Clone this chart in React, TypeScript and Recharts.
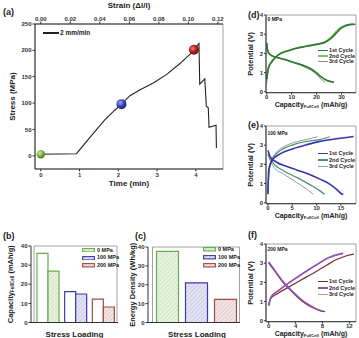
import React from 'react';
import {
  ComposedChart, LineChart, Line, Scatter, Bar, Cell,
  XAxis, YAxis, ReferenceArea, Label,
} from 'recharts';

const FONT = '"Liberation Sans", Arial, Helvetica, sans-serif';
const TICK = { fontSize: 6, fontWeight: 700, fill: '#333', fontFamily: FONT };
const AXIS = '#333';
const FRAME = '#8a8a8a';

// (a) stress-time curve at 2 mm/min
const timeMin = [0, 0.92, 1.3, 1.65, 1.9, 2.08, 2.3, 2.55, 2.9, 3.24, 3.59, 3.85, 3.95, 4.08, 4.1, 4.23, 4.27, 4.32, 4.34, 4.52, 4.53];
const stressMPa = [3, 4, 38, 68, 86, 98, 114, 125, 138, 154, 175, 193, 201, 213, 136, 146, 94, 91, 54, 58, 15];
const timeTicks = [0, 1, 2, 3, 4];
const stressTicks = [0, 50, 100, 150, 200, 250];
const strainTicks = [0, 0.02, 0.04, 0.06, 0.08, 0.1, 0.12];
const strainPerMin = 0.02627; // top axis: 0.12 strain sits at ~4.57 min
const markerTime = [0, 2.08, 3.95];
const markerStress = [3, 98, 201];

// (b), (c) stress loading
const loadCats = ['0 MPa', '100 MPa', '200 MPa'];
const chargeCap = [36.1, 16.1, 12.2];
const dischargeCap = [26.9, 14.9, 8.1];
const energyDensity = [37.7, 21.0, 12.2];
const barTicks = [0, 10, 20, 30, 40];

// (d) 0 MPa cycles, [capacity, potential]
const mpa0Cyc1Chg = [[0, 0.65], [0.5, 1.15], [1, 1.35], [2, 1.55], [3, 1.72], [5, 1.95], [7, 2.07], [9, 2.15], [12, 2.27], [16, 2.37], [20, 2.47], [23.5, 2.58], [25.5, 2.75], [27.5, 3.0], [29.5, 3.28], [31.5, 3.43], [33.5, 3.5], [35.5, 3.52]];
const mpa0Cyc2Chg = [[0, 0.7], [0.5, 1.2], [1, 1.4], [2, 1.6], [3, 1.75], [5, 1.97], [7, 2.09], [9, 2.17], [12, 2.28], [16, 2.38], [20, 2.48], [23.5, 2.62], [25.5, 2.82], [27.5, 3.1], [29.5, 3.35], [31.5, 3.47], [33.5, 3.52], [35, 3.53]];
const mpa0Cyc3Chg = [[0, 0.45], [0.5, 1.0], [1, 1.3], [2, 1.55], [3, 1.72], [5, 1.95], [7, 2.08], [9, 2.16], [12, 2.28], [16, 2.38], [20, 2.48], [23.5, 2.6], [25.5, 2.8], [27.5, 3.07], [29.5, 3.33], [31.5, 3.46], [33.5, 3.52], [35, 3.53]];
const mpa0Cyc1Dis = [[0, 2.55], [0.3, 2.2], [1, 1.98], [3, 1.83], [5, 1.76], [7, 1.69], [11, 1.52], [15, 1.35], [18, 1.17], [20, 0.98], [22, 0.76], [24, 0.6], [26, 0.52], [27, 0.5]];
const mpa0Cyc2Dis = [[0, 2.5], [0.3, 2.15], [1, 1.96], [3, 1.82], [5, 1.75], [7, 1.68], [11, 1.52], [15, 1.35], [18, 1.16], [20, 0.96], [22, 0.74], [24, 0.59], [26.6, 0.49]];
const mpa0Cyc3Dis = [[0, 2.45], [0.3, 2.1], [1, 1.95], [3, 1.82], [5, 1.75], [7, 1.68], [11, 1.5], [15, 1.3], [18, 1.1], [19.5, 0.95], [21, 0.75], [22.5, 0.58], [23.4, 0.5]];

// (e) 100 MPa cycles
const mpa100Cyc1Chg = [[0, 0.44], [0.15, 1.67], [0.8, 2.2], [2.5, 2.55], [5.2, 2.82], [8, 3.03], [10.7, 3.2], [13.4, 3.31], [16.2, 3.4], [17.6, 3.45]];
const mpa100Cyc2Chg = [[0, 0.53], [0.27, 1.76], [1.16, 2.38], [3.2, 2.82], [5.9, 3.08], [8.7, 3.22], [10.7, 3.3], [12.7, 3.44]];
const mpa100Cyc3Chg = [[0, 0.62], [0.34, 1.94], [1.5, 2.55], [3.9, 3.0], [6.6, 3.22], [8.7, 3.35], [10.2, 3.44]];
const mpa100Cyc1Dis = [[0, 2.73], [0.5, 2.38], [1.8, 2.11], [3.9, 1.89], [5.9, 1.71], [8.7, 1.46], [10.7, 1.23], [12.7, 0.97], [14.1, 0.7], [15.1, 0.47], [15.5, 0.43]];
const mpa100Cyc2Dis = [[0, 2.55], [1.2, 2.03], [3.2, 1.67], [5.9, 1.32], [8.7, 0.93], [10.7, 0.62], [11.7, 0.44]];
const mpa100Cyc3Dis = [[0, 2.47], [1.2, 1.85], [3.2, 1.5], [5.9, 1.06], [8, 0.7], [9.3, 0.44]];

// (f) 200 MPa cycles
const mpa200Cyc1Chg = [[0, 0.79], [0.25, 1.14], [1.23, 1.4], [2.7, 1.7], [4.7, 2.1], [6.7, 2.49], [8.6, 2.89], [10.1, 3.19], [11.6, 3.39], [12.7, 3.47]];
const mpa200Cyc2Chg = [[0, 0.79], [0.35, 1.23], [1.5, 1.58], [3.2, 2.02], [5.2, 2.49], [7.2, 2.93], [8.9, 3.28], [10.4, 3.46], [11.1, 3.51]];
const mpa200Cyc3Chg = [[0, 0.82], [0.35, 1.25], [1.5, 1.6], [3.2, 2.03], [5.2, 2.5], [7.2, 2.93], [8.9, 3.27], [10.6, 3.47]];
const mpa200Cyc1Dis = [[0, 3.02], [1, 2.54], [2, 2.05], [3, 1.67], [4, 1.32], [4.9, 1.04], [6.2, 0.74], [7.7, 0.53], [8.4, 0.47]];
const mpa200Cyc2Dis = [[0, 3.07], [1, 2.58], [2, 2.1], [3, 1.72], [4, 1.37], [4.9, 1.09], [6.2, 0.79], [7.4, 0.56], [8.1, 0.49]];
const mpa200Cyc3Dis = [[0, 3.0], [1, 2.55], [2, 2.08], [3, 1.7], [4, 1.35], [4.9, 1.07], [6.2, 0.77], [7.4, 0.55], [7.9, 0.5]];

const cycleNames = ['1st Cycle', '2nd Cycle', '3rd Cycle'];
const potentialTicks = [0, 1, 2, 3, 4];

const loadColors = ['#6aa84f', '#3a3aa8', '#a04a46'];
const hatchIds = ['hatchGreen', 'hatchBlue', 'hatchRed'];
const hatchBg = ['#e8f2e0', '#e3e3f4', '#f4e5e5'];
const hatchLine = ['#bcd8ab', '#b6b6e0', '#d9b3b3'];

function TitleText({ x, y, angle = 0, size = 8, children }: any) {
  return (
    <text
      x={x} y={y}
      transform={angle ? `rotate(${angle} ${x} ${y})` : undefined}
      textAnchor="middle" dominantBaseline="central"
      fontFamily={FONT} fontWeight={700} fontSize={size} fill="#222"
    >
      {children}
    </text>
  );
}

const yTitle = (dx: number, body: React.ReactNode, size = 8) => (p: any) => {
  const vb = p.viewBox || {};
  const x = vb.x + dx;
  const y = vb.y + vb.height / 2;
  return <TitleText x={x} y={y} angle={-90} size={size}>{body}</TitleText>;
};

const xTitle = (dy: number, body: React.ReactNode, size = 8) => (p: any) => {
  const vb = p.viewBox || {};
  return <TitleText x={vb.x + vb.width / 2} y={vb.y + dy} size={size}>{body}</TitleText>;
};

const capTitle = (unit: string, sub = 4.5) => (
  <>
    <tspan>Capacity</tspan>
    <tspan fontSize={sub} dy={1.8}>FullCell</tspan>
    <tspan dy={-1.8}>{` (${unit})`}</tspan>
  </>
);

function Note({ x, y, size = 5.5, children, weight = 700 }: any) {
  return (
    <div style={{
      position: 'absolute', left: x, top: y - size / 2, fontSize: size, lineHeight: `${size}px`,
      fontWeight: weight, whiteSpace: 'nowrap', color: '#222', fontFamily: FONT,
    }}>
      {children}
    </div>
  );
}

function SharedDefs() {
  return (
    <svg width={0} height={0} style={{ position: 'absolute' }}>
      <defs>
        {hatchIds.map((id, i) => (
          <pattern key={id} id={id} patternUnits="userSpaceOnUse" width={3} height={3} patternTransform="rotate(45)">
            <rect width={3} height={3} fill={hatchBg[i]} />
            <line x1={0} y1={0} x2={0} y2={3} stroke={hatchLine[i]} strokeWidth={1} />
          </pattern>
        ))}
        <radialGradient id="ballGreen" cx="38%" cy="35%" r="65%">
          <stop offset="0%" stopColor="#d6f0a0" />
          <stop offset="55%" stopColor="#7cb342" />
          <stop offset="100%" stopColor="#4a7a1e" />
        </radialGradient>
        <radialGradient id="ballBlue" cx="38%" cy="35%" r="65%">
          <stop offset="0%" stopColor="#9aa6ff" />
          <stop offset="55%" stopColor="#3846b0" />
          <stop offset="100%" stopColor="#1c2470" />
        </radialGradient>
        <radialGradient id="ballRed" cx="38%" cy="35%" r="65%">
          <stop offset="0%" stopColor="#f08080" />
          <stop offset="55%" stopColor="#b01c1c" />
          <stop offset="100%" stopColor="#6a0c0c" />
        </radialGradient>
      </defs>
    </svg>
  );
}

const tensileData = timeMin.map((t, i) => ({ t, s: stressMPa[i] }));
const markerData = markerTime.map((t, i) => ({ t, s: markerStress[i] }));
const markerFill = ['url(#ballGreen)', 'url(#ballBlue)', 'url(#ballRed)'];
const markerR = [4.2, 5, 5];
const TIME_DOMAIN = [-0.15, 4.7];

function TensilePanel() {
  return (
    <div style={{ position: 'absolute', left: 0, top: 0 }}>
      <ComposedChart width={230} height={192} data={tensileData} margin={{ top: 2, right: 7, bottom: 3, left: 8 }}>
        <XAxis dataKey="t" type="number" domain={TIME_DOMAIN} ticks={timeTicks} allowDataOverflow
          height={20} tick={TICK} tickSize={2.5} tickMargin={1} stroke={AXIS}>
          <Label content={xTitle(14.5, 'Time (min)')} />
        </XAxis>
        <XAxis xAxisId="strain" orientation="top" dataKey="t" type="number" domain={TIME_DOMAIN}
          ticks={strainTicks.map((s) => s / strainPerMin)} allowDataOverflow height={22}
          tick={TICK} tickSize={2.5} tickMargin={1} stroke={AXIS}
          tickFormatter={(v: number) => (v * strainPerMin).toFixed(2)}>
          <Label content={xTitle(3, 'Strain (Δl/l)')} />
        </XAxis>
        <YAxis dataKey="s" type="number" domain={[-25, 250]} ticks={stressTicks} allowDataOverflow
          width={27} tick={TICK} tickSize={2.5} tickMargin={1} stroke={AXIS}>
          <Label content={yTitle(4.7, 'Stress (MPa)')} />
        </YAxis>
        <ReferenceArea x1={TIME_DOMAIN[0]} x2={TIME_DOMAIN[1]} y1={-25} y2={250} fill="none" stroke={FRAME} strokeWidth={0.8} />
        <Line xAxisId="strain" dataKey="s" stroke="none" dot={false} activeDot={false} isAnimationActive={false} />
        <Line dataKey="s" type="linear" stroke="#222" strokeWidth={1.1} dot={false} isAnimationActive={false} />
        <Scatter
          data={markerData} dataKey="s" isAnimationActive={false}
          shape={(p: any) => {
            const k = Math.max(0, markerTime.indexOf(p.payload?.t));
            return <circle cx={p.cx} cy={p.cy} r={markerR[k]} fill={markerFill[k]} />;
          }}
        />
      </ComposedChart>
    </div>
  );
}

const capacityData = loadCats.map((name, i) => ({ name, charge: chargeCap[i], discharge: dischargeCap[i] }));
const energyData = loadCats.map((name, i) => ({ name, energy: energyDensity[i] }));

function CapacityPanel() {
  return (
    <div style={{ position: 'absolute', left: 0, top: 235 }}>
      <ComposedChart width={125} height={103} data={capacityData} barGap={0} barSize={11}
        margin={{ top: 11, right: 7, bottom: 1.5, left: 4 }}>
        <XAxis dataKey="name" tick={false} tickLine={false} height={14} padding={{ left: 3, right: 1 }} stroke={AXIS}>
          <Label content={xTitle(11.5, 'Stress Loading')} />
        </XAxis>
        <YAxis type="number" domain={[0, 40]} ticks={barTicks} width={27} tick={TICK} tickSize={2.5} tickMargin={1} stroke={AXIS}>
          <Label content={yTitle(6, capTitle('mAh/g'), 7.5)} />
        </YAxis>
        <ReferenceArea y1={0} y2={40} fill="none" stroke={FRAME} strokeWidth={0.8} />
        <Bar dataKey="charge" isAnimationActive={false} strokeWidth={1.2}>
          {loadCats.map((c, i) => <Cell key={c} fill="#fff" stroke={loadColors[i]} />)}
        </Bar>
        <Bar dataKey="discharge" isAnimationActive={false} strokeWidth={1.2}>
          {loadCats.map((c, i) => <Cell key={c} fill={`url(#${hatchIds[i]})`} stroke={loadColors[i]} />)}
        </Bar>
      </ComposedChart>
    </div>
  );
}

function EnergyPanel() {
  return (
    <div style={{ position: 'absolute', left: 120, top: 235, width: 120, height: 103, overflow: 'hidden' }}>
      <ComposedChart width={130} height={103} data={energyData} barSize={22}
        margin={{ top: 12, right: 4, bottom: 1, left: 4 }}>
        <XAxis dataKey="name" tick={false} tickLine={false} height={14.5} padding={{ left: 4.5, right: 6.5 }} stroke={AXIS}>
          <Label content={xTitle(11.5, 'Stress Loading')} />
        </XAxis>
        <YAxis type="number" domain={[0, 40]} ticks={barTicks} width={24} tick={TICK} tickSize={2.5} tickMargin={1} stroke={AXIS}>
          <Label content={yTitle(8.7, 'Energy Density (Wh/kg)', 7.5)} />
        </YAxis>
        <ReferenceArea y1={0} y2={40} fill="none" stroke={FRAME} strokeWidth={0.8} />
        <Bar dataKey="energy" isAnimationActive={false} strokeWidth={1.2}>
          {loadCats.map((c, i) => <Cell key={c} fill={`url(#${hatchIds[i]})`} stroke={loadColors[i]} />)}
        </Bar>
      </ComposedChart>
    </div>
  );
}

function BarLegend({ x, ys }: { x: number; ys: number[] }) {
  return (
    <>
      {loadCats.map((c, i) => (
        <div key={c} style={{ position: 'absolute', left: x, top: ys[i] - 2.2, display: 'flex', alignItems: 'center' }}>
          <svg width={13} height={4.5} style={{ display: 'block' }}>
            <rect x={0.6} y={0.6} width={11.8} height={3.3} fill={`url(#${hatchIds[i]})`} stroke={loadColors[i]} strokeWidth={1.1} />
          </svg>
          <span style={{ marginLeft: 2, fontSize: 5.5, lineHeight: '5px', fontWeight: 700, fontFamily: FONT, color: '#222', whiteSpace: 'nowrap' }}>{c}</span>
        </div>
      ))}
    </>
  );
}

type Curve = { pts: number[][]; color: string; w: number };

function CyclePanel({ top, height, marginTop, xDomain, xTicks, curves }: {
  top: number; height: number; marginTop: number; xDomain: number[]; xTicks: number[]; curves: Curve[];
}) {
  return (
    <div style={{ position: 'absolute', left: 230, top }}>
      <LineChart width={129} height={height} margin={{ top: marginTop, right: 3, bottom: height - marginTop - 77.7 - 14, left: 4 }}>
        <XAxis dataKey="x" type="number" domain={xDomain} ticks={xTicks} allowDataOverflow height={14}
          tick={TICK} tickSize={2} tickMargin={0} stroke={AXIS}>
          <Label content={xTitle(11.2, capTitle('mAh/g', 4.2), 7)} />
        </XAxis>
        <YAxis type="number" domain={[-0.05, 4]} ticks={potentialTicks} allowDataOverflow width={32}
          tick={TICK} tickSize={2} tickMargin={1} stroke={AXIS}>
          <Label content={yTitle(17, 'Potential (V)', 7.5)} />
        </YAxis>
        <ReferenceArea x1={xDomain[0]} x2={xDomain[1]} y1={-0.05} y2={4} fill="none" stroke={FRAME} strokeWidth={0.8} />
        {curves.map((c, i) => (
          <Line key={i} data={c.pts.map(([x, y]) => ({ x, y }))} dataKey="y" type="monotone"
            stroke={c.color} strokeWidth={c.w} dot={false} isAnimationActive={false} />
        ))}
      </LineChart>
    </div>
  );
}

function CycleLegend({ ys, colors, widths }: { ys: number[]; colors: string[]; widths: number[] }) {
  return (
    <>
      {cycleNames.map((n, i) => (
        <div key={n} style={{ position: 'absolute', left: 318, top: ys[i] - 2.5, display: 'flex', alignItems: 'center', height: 5 }}>
          <span style={{ display: 'inline-block', width: 9.5, height: widths[i], background: colors[i] }} />
          <span style={{ marginLeft: 1.5, fontSize: 5.5, lineHeight: '5px', fontWeight: 700, fontFamily: FONT, color: '#222', whiteSpace: 'nowrap' }}>{n}</span>
        </div>
      ))}
    </>
  );
}

const dColors = ['#2f7a2f', '#79c36a', '#8a8a8a'];
const eColors = ['#3535a8', '#4f8f7d', '#9a9a9a'];
const fColors = ['#7b2e34', '#8a55b5', '#b49aa6'];
const cycleWidths = [1.6, 1.3, 1];

export default function App() {
  return (
    <div style={{ position: 'absolute', left: 0, top: 0, width: 359, height: 338, background: '#fff', overflow: 'hidden', fontFamily: FONT }}>
      <SharedDefs />
      <TensilePanel />
      <CapacityPanel />
      <EnergyPanel />
      <CyclePanel top={0} height={110} marginTop={15} xDomain={[-0.3, 35.8]} xTicks={[0, 10, 20, 30]}
        curves={[
          { pts: mpa0Cyc3Chg, color: dColors[2], w: cycleWidths[2] },
          { pts: mpa0Cyc3Dis, color: dColors[2], w: cycleWidths[2] },
          { pts: mpa0Cyc2Chg, color: dColors[1], w: cycleWidths[1] },
          { pts: mpa0Cyc2Dis, color: dColors[1], w: cycleWidths[1] },
          { pts: mpa0Cyc1Chg, color: dColors[0], w: cycleWidths[0] },
          { pts: mpa0Cyc1Dis, color: dColors[0], w: cycleWidths[0] },
        ]} />
      <CyclePanel top={110} height={110} marginTop={16} xDomain={[-0.4, 18.1]} xTicks={[0, 5, 10, 15]}
        curves={[
          { pts: mpa100Cyc3Chg, color: eColors[2], w: cycleWidths[2] },
          { pts: mpa100Cyc3Dis, color: eColors[2], w: cycleWidths[2] },
          { pts: mpa100Cyc2Chg, color: eColors[1], w: cycleWidths[1] },
          { pts: mpa100Cyc2Dis, color: eColors[1], w: cycleWidths[1] },
          { pts: mpa100Cyc1Chg, color: eColors[0], w: cycleWidths[0] },
          { pts: mpa100Cyc1Dis, color: eColors[0], w: cycleWidths[0] },
        ]} />
      <CyclePanel top={220} height={118} marginTop={24} xDomain={[-0.4, 13]} xTicks={[0, 4, 8, 12]}
        curves={[
          { pts: mpa200Cyc3Chg, color: fColors[2], w: cycleWidths[2] },
          { pts: mpa200Cyc3Dis, color: fColors[2], w: cycleWidths[2] },
          { pts: mpa200Cyc1Chg, color: fColors[0], w: 1.2 },
          { pts: mpa200Cyc1Dis, color: fColors[0], w: 1.2 },
          { pts: mpa200Cyc2Chg, color: fColors[1], w: 1.6 },
          { pts: mpa200Cyc2Dis, color: fColors[1], w: 1.6 },
        ]} />

      <Note x={3} y={12} size={9}>(a)</Note>
      <Note x={3} y={236} size={9}>(b)</Note>
      <Note x={135} y={236} size={9}>(c)</Note>
      <Note x={248} y={15} size={9}>(d)</Note>
      <Note x={248} y={125} size={9}>(e)</Note>
      <Note x={248} y={235.5} size={9}>(f)</Note>

      <div style={{ position: 'absolute', left: 43, top: 32.4, width: 16, height: 1.3, background: '#222' }} />
      <Note x={60} y={33} size={6.5}>2 mm/min</Note>

      <BarLegend x={82} ys={[249.7, 257.5, 265.3]} />
      <BarLegend x={203} ys={[249.2, 257, 265]} />

      <Note x={267.5} y={19.5} size={5}>0 MPa</Note>
      <Note x={267.5} y={133} size={5}>100 MPa</Note>
      <Note x={267.5} y={249.3} size={5}>200 MPa</Note>

      <CycleLegend ys={[50.5, 56, 61.5]} colors={dColors} widths={[1.8, 1.4, 1]} />
      <CycleLegend ys={[153.5, 160, 166.5]} colors={eColors} widths={[1.8, 1.4, 1]} />
      <CycleLegend ys={[281.5, 288, 294.5]} colors={fColors} widths={[1.2, 1.8, 1]} />
    </div>
  );
}
